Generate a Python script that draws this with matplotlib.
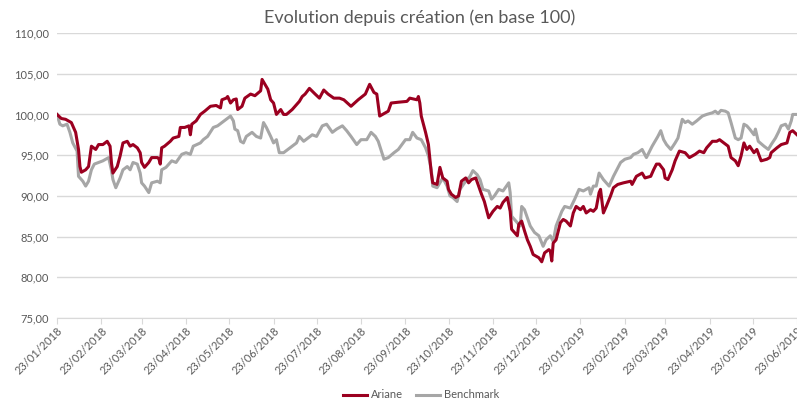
import matplotlib
matplotlib.use("Agg")
import matplotlib.pyplot as plt
import matplotlib.dates as mdates
from matplotlib.ticker import FuncFormatter, MultipleLocator
import numpy as np
import pandas as pd

START = "2018-01-23"
END = "2019-06-23"

# Ariane: days since start, value (base 100)
ariane_days = [0, 3, 6, 10, 13, 15, 16, 17, 20, 22, 24, 27, 29, 32, 35, 37, 38, 39, 42, 44,
               46, 49, 51, 53, 56, 58, 59, 61, 64, 66, 70, 71, 72, 73, 75, 79, 81, 85, 86, 89,
               92, 93, 94, 97, 100, 103, 107, 111, 114, 115, 118, 119, 121, 123, 125, 126, 129, 131, 135, 138,
               142, 143, 145, 147, 149, 151, 153, 156, 158, 160, 164, 167, 169, 171, 173, 176, 180, 183, 186, 189,
               193, 197, 200, 205, 210, 215, 218, 221, 223, 225, 229, 231, 233, 238, 244, 246, 251, 252, 253, 254,
               257, 259, 261, 262, 265, 267, 269, 272, 273, 275, 278, 280, 282, 285, 287, 289, 292, 294, 296, 298,
               301, 304, 307, 309, 311, 314, 316, 317, 319, 321, 322, 324, 326, 328, 330, 332, 336, 338, 340, 343,
               344, 345, 346, 348, 351, 353, 355, 358, 360, 362, 365, 367, 369, 372, 374, 376, 378, 379, 381, 383,
               386, 388, 391, 395, 400, 401, 404, 408, 410, 414, 416, 418, 420, 423, 424, 426, 429, 431, 434, 438,
               441, 445, 448, 451, 453, 457, 460, 462, 465, 468, 470, 473, 475, 477, 479, 481, 483, 486, 488, 491,
               495, 497, 498, 502, 505, 509, 511, 513, 516]
ariane_vals = [100.0, 99.5, 99.4, 99.0, 97.8, 95.7, 93.6, 92.9, 93.2, 93.6, 96.1, 95.7, 96.3, 96.3, 96.7, 96.1, 94.0, 92.8, 93.6, 94.9,
               96.5, 96.7, 96.1, 96.3, 95.9, 95.3, 94.1, 93.5, 94.1, 94.7, 94.7, 94.6, 93.9, 95.9, 96.1, 96.7, 97.1, 97.3, 98.4, 98.4,
               98.6, 97.5, 98.8, 99.2, 100.0, 100.4, 101.0, 101.1, 100.8, 101.8, 102.0, 102.2, 101.4, 101.8, 101.9, 100.6, 101.0, 102.0, 102.5, 102.3,
               102.9, 104.3, 103.7, 103.1, 101.8, 101.4, 100.0, 100.6, 100.0, 100.0, 100.6, 101.2, 101.6, 102.2, 102.5, 103.2, 102.5, 102.0, 103.0, 102.5,
               102.0, 102.0, 101.8, 101.0, 101.8, 102.5, 103.7, 102.7, 102.5, 99.8, 100.2, 100.4, 101.4, 101.5, 101.6, 102.0, 101.8, 102.2, 101.4, 99.8,
               97.8, 96.3, 92.8, 91.6, 91.4, 93.5, 92.2, 91.8, 90.8, 90.2, 89.8, 90.0, 91.8, 92.2, 91.6, 92.0, 92.2, 91.2, 90.2, 89.3,
               87.3, 88.1, 88.7, 88.5, 89.2, 89.8, 88.1, 85.9, 85.5, 85.1, 86.5, 86.9, 85.7, 84.6, 83.8, 82.8, 82.4, 81.9, 83.0, 83.4,
               83.2, 82.0, 84.2, 84.6, 86.7, 87.1, 86.9, 86.3, 87.9, 88.7, 88.3, 88.7, 87.9, 88.3, 88.1, 88.5, 90.4, 90.8, 87.9, 88.7,
               90.0, 91.0, 91.4, 91.6, 91.8, 91.4, 92.4, 92.8, 92.2, 92.4, 93.2, 93.9, 93.9, 93.2, 92.2, 92.0, 93.2, 94.3, 95.5, 95.3,
               94.7, 95.1, 95.5, 95.3, 95.9, 96.7, 96.7, 96.9, 96.5, 96.1, 94.7, 94.3, 93.7, 94.9, 96.5, 95.7, 96.1, 95.3, 95.7, 94.3,
               94.5, 94.7, 95.3, 95.9, 96.3, 96.5, 97.8, 98.0, 97.5]

# Benchmark: days since start, value (base 100)
bench_days = [0, 2, 4, 7, 9, 11, 14, 15, 16, 18, 20, 22, 24, 26, 29, 32, 36, 38, 39, 41,
              44, 46, 49, 51, 53, 56, 58, 59, 61, 64, 66, 70, 72, 73, 76, 80, 83, 87, 90, 93,
              95, 100, 102, 105, 109, 112, 115, 118, 121, 123, 124, 126, 128, 130, 132, 136, 139, 142, 144, 146,
              149, 151, 153, 155, 158, 161, 164, 167, 169, 172, 175, 178, 181, 185, 188, 192, 195, 199, 202, 205,
              209, 212, 216, 219, 222, 224, 228, 231, 235, 238, 243, 246, 248, 251, 254, 257, 259, 261, 262, 265,
              267, 269, 272, 274, 276, 279, 281, 285, 288, 290, 293, 295, 297, 301, 303, 305, 308, 311, 315, 316,
              317, 319, 321, 323, 324, 326, 330, 333, 336, 339, 341, 344, 346, 348, 352, 354, 358, 361, 364, 367,
              371, 372, 374, 376, 378, 381, 385, 388, 393, 396, 400, 402, 405, 408, 411, 415, 417, 419, 421, 423,
              425, 428, 431, 433, 436, 438, 440, 443, 446, 450, 453, 457, 459, 461, 463, 466, 468, 470, 473, 475,
              477, 479, 481, 483, 486, 487, 489, 493, 496, 498, 501, 503, 505, 508, 510, 512, 513, 516]
bench_vals = [100.0, 98.8, 98.6, 98.8, 97.8, 96.5, 95.5, 92.4, 92.2, 91.8, 91.2, 91.8, 93.2, 93.9, 94.1, 94.3, 94.7, 93.1, 92.0, 91.0,
              92.2, 93.2, 93.6, 93.2, 94.1, 93.9, 92.8, 91.6, 91.2, 90.4, 91.6, 91.8, 91.6, 93.2, 93.5, 94.3, 94.1, 95.1, 95.3, 95.1,
              96.1, 96.5, 96.9, 97.3, 98.4, 98.6, 99.0, 99.4, 99.8, 99.2, 98.2, 98.0, 96.7, 96.5, 97.3, 97.8, 97.3, 97.1, 99.0, 98.4,
              97.3, 96.5, 96.9, 95.3, 95.3, 95.7, 96.1, 96.5, 97.3, 96.7, 97.1, 97.5, 97.3, 98.6, 98.8, 97.8, 98.2, 98.6, 98.0, 97.3,
              96.3, 96.9, 96.9, 97.8, 97.3, 96.7, 94.5, 94.7, 95.3, 95.7, 96.9, 96.9, 97.8, 97.1, 96.9, 95.9, 94.9, 93.2, 91.2, 91.0,
              91.6, 92.2, 91.2, 90.0, 89.8, 89.3, 90.8, 91.8, 92.4, 93.1, 92.6, 92.0, 90.8, 90.6, 89.6, 90.0, 90.8, 90.6, 91.6, 90.4,
              87.5, 87.1, 86.7, 86.3, 88.7, 88.3, 86.3, 85.5, 85.1, 83.8, 84.6, 85.1, 84.4, 86.3, 88.1, 88.7, 88.5, 89.6, 90.8, 90.6,
              91.0, 90.2, 91.2, 91.2, 92.8, 92.0, 91.2, 92.4, 94.1, 94.5, 94.7, 95.1, 95.3, 95.7, 94.7, 96.1, 96.7, 97.3, 98.0, 96.9,
              96.3, 95.7, 96.5, 97.1, 99.4, 99.0, 99.2, 98.8, 99.2, 99.8, 100.0, 100.2, 100.4, 100.1, 100.5, 100.4, 100.2, 99.0, 97.1, 96.9,
              97.1, 98.8, 98.6, 98.2, 97.5, 98.2, 96.7, 96.1, 95.7, 96.3, 97.1, 97.8, 98.6, 98.8, 98.2, 99.2, 100.0, 100.0]

series_names = ["Ariane", "Benchmark"]
title = "Evolution depuis création (en base 100)"

start = pd.Timestamp(START)
a_dates = start + pd.to_timedelta(ariane_days, unit="D")
b_dates = start + pd.to_timedelta(bench_days, unit="D")

plt.rcParams['font.family'] = ['Lato', 'DejaVu Sans']

W, H = 797, 401
fig = plt.figure(figsize=(W / 100, H / 100), dpi=100)
ax = fig.add_axes([57 / W, 1 - 318 / H, (797 - 57) / W, (318 - 33) / H])

red = "#9B0020"
grey = "#A6A6A6"
ax.plot(b_dates, bench_vals, color=grey, lw=2.2, label=series_names[1], solid_joinstyle="round", zorder=3)
ax.plot(a_dates, ariane_vals, color=red, lw=2.2, label=series_names[0], solid_joinstyle="round", zorder=4)

ax.set_ylim(75, 110)
ax.yaxis.set_major_locator(MultipleLocator(5))
ax.yaxis.set_major_formatter(FuncFormatter(lambda v, p: f"{v:.2f}".replace(".", ",")))
ax.set_xlim(pd.Timestamp(START), pd.Timestamp(END))
ax.xaxis.set_major_locator(mdates.MonthLocator(bymonthday=23))
ax.xaxis.set_major_formatter(mdates.DateFormatter("%d/%m/%Y"))

ax.grid(axis="y", color="#D9D9D9", lw=1)
ax.set_axisbelow(True)
for s in ["top", "right", "left"]:
    ax.spines[s].set_visible(False)
ax.spines["bottom"].set_color("#D9D9D9")
ax.tick_params(axis="y", length=0, labelsize=8, labelcolor="#595959", pad=6)
ax.tick_params(axis="x", length=4, color="#D9D9D9", labelsize=8, labelcolor="#595959", pad=1)
for lab in ax.get_xticklabels():
    lab.set_rotation(45)
    lab.set_ha("right")
    lab.set_va("top")
    lab.set_rotation_mode("anchor")

fig.text(420 / W, 1 - 18 / H, title, ha="center", va="center", fontsize=13, color="#595959")

handles, labels = ax.get_legend_handles_labels()
order = [1, 0]
leg = fig.legend([handles[i] for i in order], [labels[i] for i in order],
                 loc="center", bbox_to_anchor=(421 / W, 1 - 395 / H), ncol=2, frameon=False,
                 fontsize=8, labelcolor="#595959", handlelength=2.2, handletextpad=0.3, columnspacing=1.2)

fig.savefig("out.png", dpi=100)
